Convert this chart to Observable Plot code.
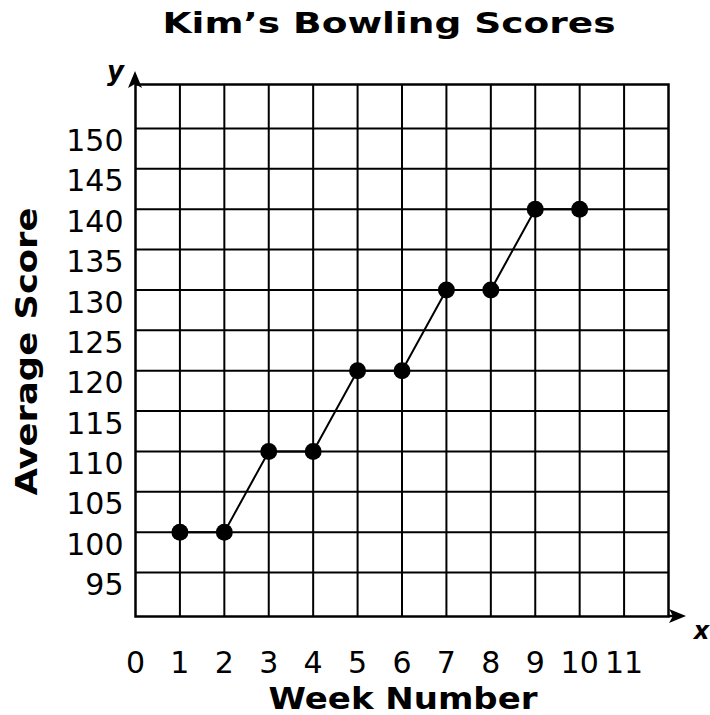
<!DOCTYPE html>
<html><head><meta charset="utf-8">
<script src="https://cdn.jsdelivr.net/npm/d3@7"></script>
<script src="https://cdn.jsdelivr.net/npm/@observablehq/plot@0.6"></script>
<style>body{margin:0;background:#fff}</style>
</head><body><div id="chart"></div>
<script>
const weeks = [1, 2, 3, 4, 5, 6, 7, 8, 9, 10];
const scores = [100, 100, 110, 110, 120, 120, 130, 130, 140, 140];
const xTicks = [0, 1, 2, 3, 4, 5, 6, 7, 8, 9, 10, 11];
const xGrid = [1, 2, 3, 4, 5, 6, 7, 8, 9, 10, 11];
const yTicks = [95, 100, 105, 110, 115, 120, 125, 130, 135, 140, 145, 150];
const titleText = "Kim’s Bowling Scores";
const xLabelText = "Week Number";
const yLabelText = "Average Score";

const data = weeks.map((w, i) => ({week: w, score: scores[i]}));
const boldFont = "DejaVu Sans";

function arrows(index, scales, values, dims) {
  const L = dims.marginLeft, T = dims.marginTop;
  const R = dims.width - dims.marginRight, B = dims.height - dims.marginBottom;
  const g = d3.create("svg:g");
  g.append("path")
    .attr("d", `M${L},${T}V${T - 8}M${R},${B}H${R + 10}`)
    .attr("stroke", "black").attr("stroke-width", 2.5).attr("fill", "none");
  g.append("path")
    .attr("d", `M${L},${T - 13}L${L + 7},${T + 4}L${L},${T}L${L - 7},${T + 4}Z` +
               `M${R + 18},${B}L${R + 1},${B - 7}L${R + 5},${B}L${R + 1},${B + 7}Z`)
    .attr("fill", "black");
  return g.node();
}

const chart = Plot.plot({
  width: 710,
  height: 715,
  marginLeft: 135,
  marginRight: 42,
  marginTop: 84,
  marginBottom: 99,
  style: {fontFamily: "DejaVu Sans", fontSize: "30px", background: "white", color: "black", overflow: "visible"},
  x: {domain: [0, 12], axis: null},
  y: {domain: [89.55, 155.45], axis: null},
  marks: [
    Plot.gridX(xGrid, {stroke: "black", strokeOpacity: 1, strokeWidth: 2}),
    Plot.gridY(yTicks, {stroke: "black", strokeOpacity: 1, strokeWidth: 2}),
    Plot.frame({stroke: "black", strokeWidth: 2.5}),
    arrows,
    Plot.axisX(xTicks, {tickSize: 0, tickPadding: 35, fontSize: 30, label: null}),
    Plot.axisY(yTicks, {tickSize: 0, tickPadding: 12, fontSize: 30, dy: 13, label: null}),
    Plot.line(data, {x: "week", y: "score", stroke: "black", strokeWidth: 2}),
    Plot.dot(data, {x: "week", y: "score", r: 8.5, fill: "black", stroke: "none"}),
    Plot.text([titleText], {frameAnchor: "top", lineAnchor: "middle", textAnchor: "middle", dx: -13, dy: -61, fontSize: 29, fontWeight: "bold", fontFamily: boldFont}),
    Plot.text([xLabelText], {frameAnchor: "bottom", lineAnchor: "middle", textAnchor: "middle", dx: 1, dy: 83, fontSize: 30, fontWeight: "bold", fontFamily: boldFont}),
    Plot.text([yLabelText], {frameAnchor: "left", lineAnchor: "middle", textAnchor: "middle", dx: -108, dy: 1, rotate: -90, fontSize: 30, fontWeight: "bold", fontFamily: boldFont}),
    Plot.text(["y"], {frameAnchor: "top-left", textAnchor: "middle", lineAnchor: "bottom", dx: -20, dy: -5, fontSize: 26, fontWeight: "bold", fontStyle: "italic", fontFamily: boldFont}),
    Plot.text(["x"], {frameAnchor: "bottom-right", textAnchor: "middle", lineAnchor: "bottom", dx: 33, dy: 22, fontSize: 24, fontWeight: "bold", fontStyle: "italic", fontFamily: boldFont})
  ]
});

const stretch = {[titleText]: 453, [xLabelText]: 269, [yLabelText]: 288};
d3.select(chart).selectAll("text").each(function () {
  const t = this.textContent;
  if (stretch[t]) {
    d3.select(this).attr("textLength", stretch[t]).attr("lengthAdjust", "spacingAndGlyphs");
  }
});
document.getElementById("chart").appendChild(chart);
</script>
</body></html>
